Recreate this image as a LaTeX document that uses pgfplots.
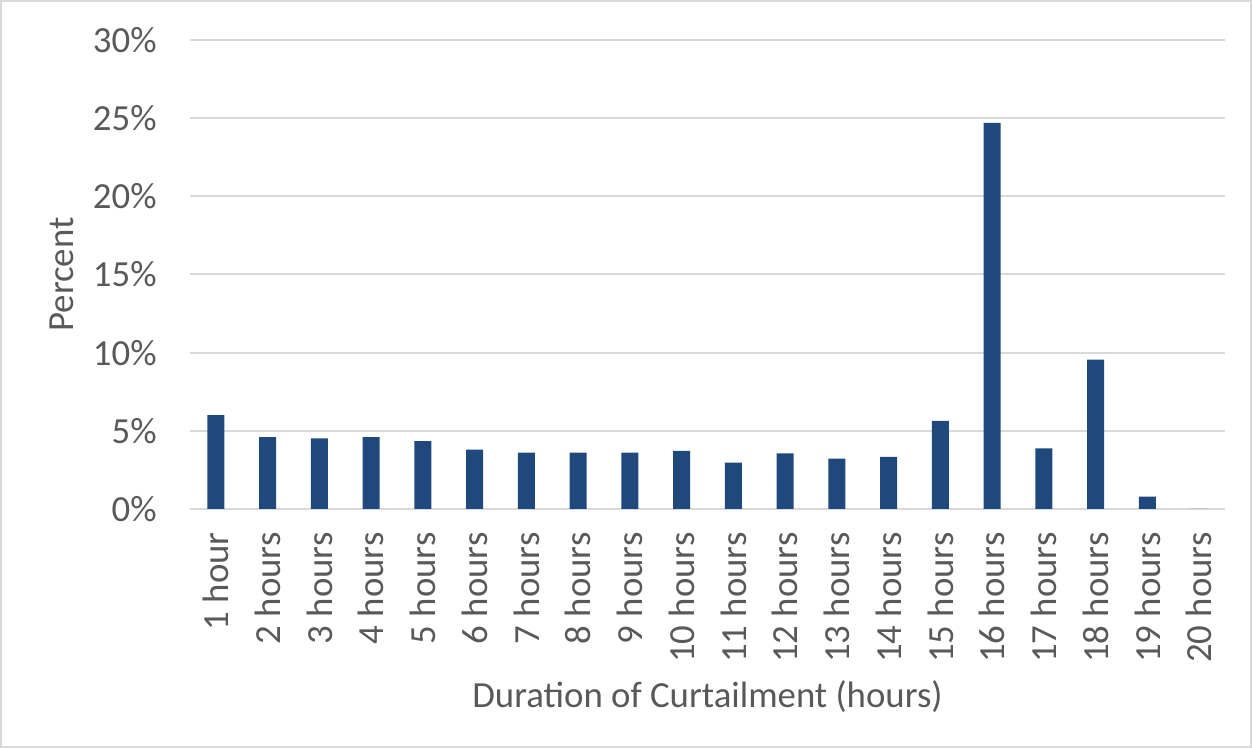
\documentclass[border=0pt]{standalone}
\usepackage{fontspec}
\setmainfont{Carlito}
\usepackage{pgfplots}
\pgfplotsset{compat=1.18}
\definecolor{barblue}{HTML}{1F497D}
\definecolor{txtgray}{HTML}{595959}
\definecolor{gridgray}{HTML}{D9D9D9}
\newcommand{\chartfont}{\fontsize{18.4}{22}\selectfont}
\begin{document}
\begin{tikzpicture}
\useasboundingbox (-95pt,-119.5pt) rectangle (531pt,254.5pt);
\draw[gridgray, line width=1pt] (-94.5pt,-119pt) rectangle (530.5pt,254pt);
\begin{axis}[
    at={(0,0)}, anchor=south west,
    scale only axis,
    width=517.5pt, height=234.5pt,
    ybar, bar width=8.5pt,
    xmin=0.5, xmax=20.5, ymin=0, ymax=30,
    enlargelimits=false,
    axis lines*=left,
    axis line style={draw=none},
    major tick length=0pt,
    ymajorgrids,
    grid style={gridgray, line width=1pt},
    xtick={1,...,20},
    xticklabels={1 hour, 2 hours, 3 hours, 4 hours, 5 hours, 6 hours, 7 hours, 8 hours, 9 hours, 10 hours,
                 11 hours, 12 hours, 13 hours, 14 hours, 15 hours, 16 hours, 17 hours, 18 hours, 19 hours, 20 hours},
    ytick={0,5,...,30},
    yticklabel={\pgfmathprintnumber{\tick}\%},
    /pgf/number format/assume math mode=true,
    tick label style={font=\chartfont, text=txtgray, inner sep=0pt},
    xticklabel style={rotate=90, anchor=east},
    xticklabel shift=11.5pt,
    yticklabel shift=16.5pt,
    xlabel={Duration of Curtailment (hours)},
    ylabel={Percent},
    label style={font=\chartfont, text=txtgray},
    xlabel style={at={([yshift=-94pt]axis description cs:0.5,0)}, anchor=center},
    ylabel style={at={([xshift=-64pt]axis description cs:0,0.5)}, anchor=center, rotate=0},
]
\addplot[fill=barblue, draw=none] coordinates {
    (1,6.0) (2,4.59) (3,4.51) (4,4.59) (5,4.34) (6,3.80) (7,3.61) (8,3.61) (9,3.61) (10,3.71)
    (11,2.97) (12,3.56) (13,3.22) (14,3.33) (15,5.64) (16,24.7) (17,3.87) (18,9.55) (19,0.79) (20,0)
};
\end{axis}
\end{tikzpicture}
\end{document}
